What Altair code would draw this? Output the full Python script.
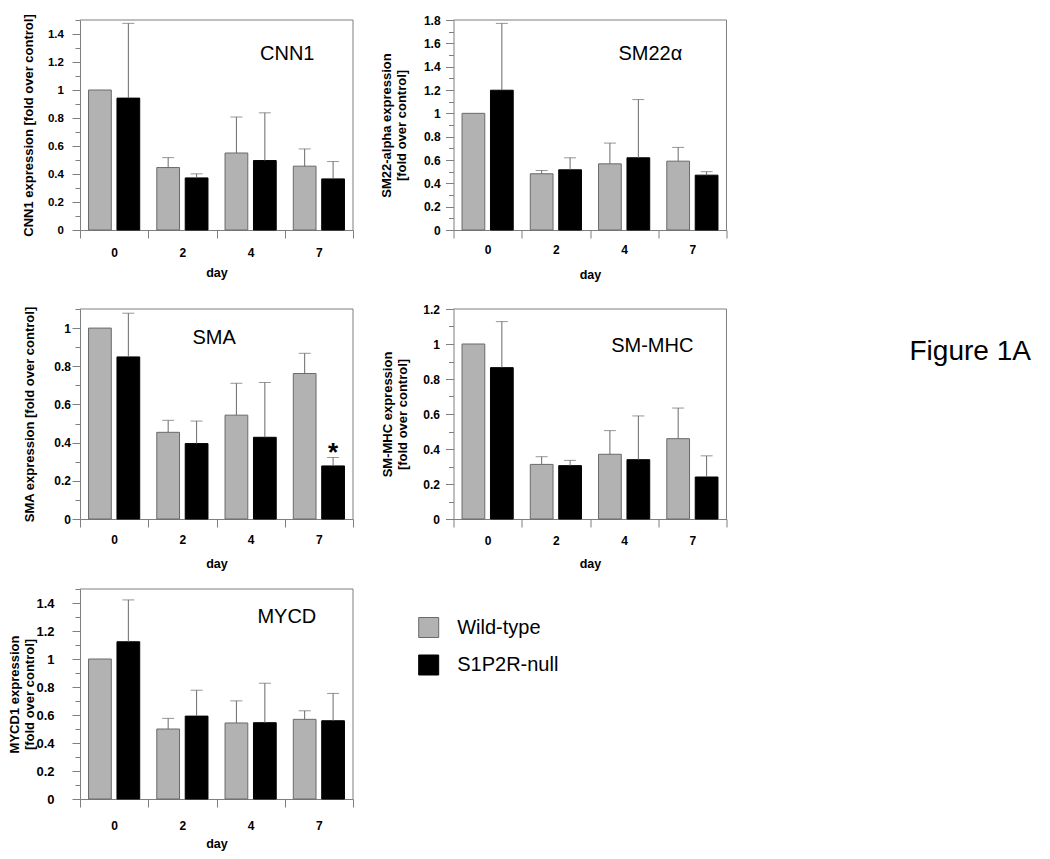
import altair as alt
import pandas as pd

# ---------------- data ----------------
days = ["0", "2", "4", "7"]
series = ["Wild-type", "S1P2R-null"]

cnn1_wt = [1.00, 0.446, 0.550, 0.456]
cnn1_wt_sd = [0.0, 0.071, 0.257, 0.123]
cnn1_ko = [0.942, 0.372, 0.496, 0.365]
cnn1_ko_sd = [0.534, 0.029, 0.341, 0.124]

sm22_wt = [1.00, 0.482, 0.567, 0.590]
sm22_wt_sd = [0.0, 0.028, 0.178, 0.118]
sm22_ko = [1.198, 0.516, 0.619, 0.470]
sm22_ko_sd = [0.573, 0.103, 0.499, 0.030]

sma_wt = [1.00, 0.454, 0.544, 0.762]
sma_wt_sd = [0.0, 0.063, 0.167, 0.106]
sma_ko = [0.849, 0.395, 0.428, 0.278]
sma_ko_sd = [0.229, 0.118, 0.287, 0.044]

mhc_wt = [1.00, 0.312, 0.370, 0.459]
mhc_wt_sd = [0.0, 0.044, 0.135, 0.175]
mhc_ko = [0.865, 0.305, 0.339, 0.240]
mhc_ko_sd = [0.263, 0.030, 0.250, 0.121]

mycd_wt = [1.00, 0.500, 0.543, 0.569]
mycd_wt_sd = [0.0, 0.076, 0.158, 0.061]
mycd_ko = [1.123, 0.592, 0.545, 0.559]
mycd_ko_sd = [0.299, 0.185, 0.282, 0.195]

panel_names = ["CNN1", "SM22α", "SMA", "SM-MHC", "MYCD"]
y_max = [1.5, 1.8, 1.1, 1.2, 1.5]
y_titles = [
    "CNN1 expression [fold over control]",
    ["SM22-alpha expression", "[fold over control]"],
    "SMA expression [fold over control]",
    ["SM-MHC expression", "[fold over control]"],
    ["MYCD1 expression", "[fold over control]"],
]
values = [
    (cnn1_wt, cnn1_wt_sd, cnn1_ko, cnn1_ko_sd),
    (sm22_wt, sm22_wt_sd, sm22_ko, sm22_ko_sd),
    (sma_wt, sma_wt_sd, sma_ko, sma_ko_sd),
    (mhc_wt, mhc_wt_sd, mhc_ko, mhc_ko_sd),
    (mycd_wt, mycd_wt_sd, mycd_ko, mycd_ko_sd),
]
significant = [("SMA", "7", "S1P2R-null", "*")]
figure_label = "Figure 1A"

# ---------------- styling / layout ----------------
FONT = "Liberation Sans"
AX = "#7f7f7f"
GRAY = "#b2b2b2"
GRAY_EDGE = "#6a6a6a"
ERR = "#6a6a6a"
W = 273

layout = [
    # height, top pad, y label pad, y label size, y title x, name x, name y, x label pad, x title y
    dict(h=210, top=0, ylp=8.6, yls=11.5, ytx=-57.8, nx=180, ny=40, xlp=9.3, xty=36.3),
    dict(h=210, top=0, ylp=5.4, yls=12, ytx=-73.3, nx=165, ny=40, xlp=6.7, xty=38),
    dict(h=219, top=9, ylp=1.5, yls=12, ytx=-56.4, nx=112.4, ny=43.7, xlp=7.7, xty=38.3),
    dict(h=219, top=9, ylp=6, yls=12, ytx=-72.3, nx=157.7, ny=52.4, xlp=8.7, xty=38.3),
    dict(h=210, top=0, ylp=18, yls=13, ytx=-71.4, nx=177.4, ny=33.7, xlp=13.7, xty=38.3),
]

LEG = alt.Legend(
    title=None, orient="none", legendX=338.2, legendY=597,
    symbolType="square", symbolSize=400, symbolStrokeWidth=1,
    symbolStrokeColor="#707070", labelFont=FONT, labelFontSize=20,
    labelColor="black", labelOffset=18, rowPadding=12.5, padding=0,
    direction="vertical",
)


def make_panel(i):
    name = panel_names[i]
    wt, wt_sd, ko, ko_sd = values[i]
    L = layout[i]
    h, top = L["h"], L["top"]
    ymax = y_max[i]

    df = pd.DataFrame({
        "day": days * 2,
        "series": [series[0]] * 4 + [series[1]] * 4,
        "mean": wt + ko,
        "sd": wt_sd + ko_sd,
    })
    df["upper"] = df["mean"] + df["sd"]
    df["mark"] = ""
    for (pn, d, s, m) in significant:
        if pn == name:
            df.loc[(df["day"] == d) & (df["series"] == s), "mark"] = m

    ticks = [round(k * 0.1, 1) for k in range(int(round(ymax * 10)) + 1)]
    yaxis = alt.Axis(
        values=ticks, tickCount=len(ticks) + 5,
        labelExpr="round(datum.value*10) % 2 == 0 ? format(datum.value, '~g') : ''",
        tickSize={"condition": {"test": "round(datum.value*10) % 2 == 0", "value": 8}, "value": 5},
        tickColor=AX, domainColor=AX, grid=False, labelOverlap=False,
        labelPadding=L["ylp"], labelFont=FONT, labelFontSize=L["yls"],
        labelFontWeight="bold", labelColor="black",
        title=y_titles[i], titleFont=FONT, titleFontSize=13, titleFontWeight="bold",
        titleColor="black", titleX=L["ytx"], titleY=(h + top) / 2, titleAngle=270,
        titleAlign="center", titleBaseline="top", titleLineHeight=15,
    )
    yscale = alt.Scale(domain=[0, ymax], range=[h, top], nice=False, zero=True)

    xenc = alt.X(
        "day:N", sort=days,
        scale=alt.Scale(paddingInner=0, paddingOuter=0),
        axis=alt.Axis(
            title="day", tickBand="extent", tickSize=8, tickColor=AX, domainColor=AX,
            labelAngle=0, labelPadding=L["xlp"], labelFont=FONT, labelFontSize=12,
            labelFontWeight="bold", labelColor="black",
            titleFont=FONT, titleFontSize=12.5, titleFontWeight="bold", titleColor="black",
            titleX=W / 2, titleY=L["xty"], titleBaseline="top",
        ),
    )
    xoff = alt.XOffset("series:N", sort=series,
                       scale=alt.Scale(paddingInner=0.2, paddingOuter=0.3))

    def yenc(f):
        return alt.Y(f, scale=yscale, axis=yaxis, stack=False)

    base = alt.Chart(df).encode(x=xenc, xOffset=xoff)
    bars = base.mark_bar(strokeWidth=1).encode(
        y=yenc("mean:Q"),
        color=alt.Color("series:N", scale=alt.Scale(domain=series, range=[GRAY, "black"]), legend=LEG),
        stroke=alt.Stroke("series:N", scale=alt.Scale(domain=series, range=[GRAY_EDGE, "black"]), legend=None),
    )
    err = base.transform_filter("datum.sd > 0").mark_rule(color=ERR, strokeWidth=1).encode(
        y=yenc("mean:Q"), y2="upper:Q")
    cap = base.transform_filter("datum.sd > 0").mark_tick(color=ERR, size=12, thickness=1).encode(
        y=yenc("upper:Q"))

    fr = alt.Chart(pd.DataFrame({"f": [0]}))
    top_rule = fr.mark_rule(color=AX, strokeWidth=1).encode(
        x=alt.value(0), x2=alt.value("width"), y=alt.datum(ymax))
    right_rule = fr.mark_rule(color=AX, strokeWidth=1).encode(
        x=alt.value("width"), y=alt.datum(0), y2=alt.datum(ymax))
    label = alt.Chart(pd.DataFrame({"t": [name]})).mark_text(
        align="left", baseline="alphabetic", font=FONT, fontSize=20, color="black"
    ).encode(text="t:N", x=alt.value(L["nx"]), y=alt.value(L["ny"]))

    layers = [bars, err, cap, top_rule, right_rule, label]
    if any(pn == name for (pn, _, _, _) in significant):
        star = base.transform_filter("datum.mark != ''").mark_text(
            font=FONT, fontSize=26, fontWeight="bold", baseline="alphabetic",
            align="center", dy=3, color="black"
        ).encode(y=yenc("upper:Q"), text="mark:N")
        layers.append(star)
    if name == "SM-MHC":
        fig = alt.Chart(pd.DataFrame({"t": [figure_label]})).mark_text(
            align="left", baseline="alphabetic", font=FONT, fontSize=28, color="black"
        ).encode(text="t:N", x=alt.value(456), y=alt.value(59.7))
        layers.append(fig)
    return alt.layer(*layers).properties(width=W, height=h)


panels = [make_panel(i) for i in range(5)]
chart = alt.concat(
    *panels, columns=2, spacing={"row": 70, "column": 100.5},
    bounds="flush", align="each",
).properties(
    padding={"left": 0, "top": 5, "right": 5, "bottom": 5}, background="white"
).configure_view(strokeWidth=0)

chart.save("out.html", embed_options={"renderer": "svg", "actions": False})
